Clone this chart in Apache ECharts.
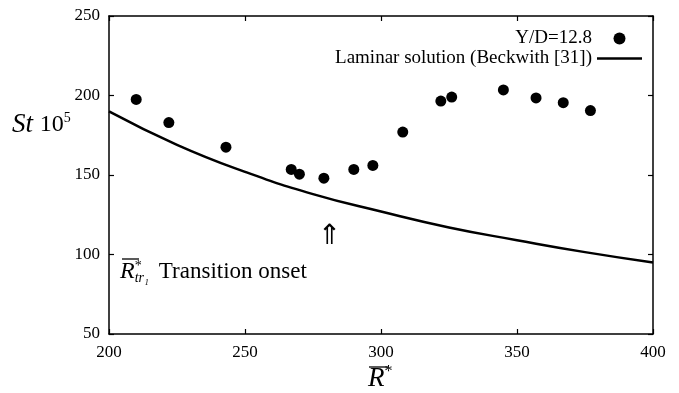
<!DOCTYPE html>
<html>
<head>
<meta charset="utf-8">
<script src="https://cdn.jsdelivr.net/npm/echarts@6/dist/echarts.min.js"></script>
<style>html,body{margin:0;padding:0;background:#fff}#c{width:679px;height:393px}</style>
</head>
<body>
<div id="c"></div>
<script>
// Experimental data Y/D=12.8
const expR = [210, 222, 243, 267, 270, 279, 290, 297, 308, 322, 326, 345, 357, 367, 377];
const expSt = [197.5, 183, 167.5, 153.5, 150.5, 148, 153.5, 156, 177, 196.5, 199, 203.5, 198.5, 195.5, 190.5];
// Laminar solution (Beckwith [31])
const lamR = [200, 225, 250, 275, 300, 325, 350, 375, 400];
const lamSt = [190, 169, 152, 138, 127, 117, 109, 101.5, 95];
const xTicks = [200, 250, 300, 350, 400];
const yTicks = [50, 100, 150, 200, 250];

const FONT = 'Liberation Serif';
const chart = echarts.init(document.getElementById('c'));
const axisCommon = {
  axisLine: {show: true, lineStyle: {color: '#000', width: 1.5}},
  axisTick: {show: true, inside: true, length: 5, lineStyle: {color: '#000', width: 1.2}},
  splitLine: {show: false}
};
chart.setOption({
  animation: false,
  backgroundColor: '#fff',
  grid: {left: 109, right: 26, top: 16, bottom: 59},
  xAxis: [
    Object.assign({type: 'value', min: xTicks[0], max: xTicks[xTicks.length-1], interval: 50, position: 'bottom',
      axisLabel: {color: '#000', fontFamily: FONT, fontSize: 17, margin: 10}}, axisCommon),
    Object.assign({type: 'value', min: xTicks[0], max: xTicks[xTicks.length-1], interval: 50, position: 'top',
      axisLabel: {show: false}}, axisCommon)
  ],
  yAxis: [
    Object.assign({type: 'value', min: yTicks[0], max: yTicks[yTicks.length-1], interval: 50, position: 'left',
      axisLabel: {color: '#000', fontFamily: FONT, fontSize: 17, margin: 9}}, axisCommon),
    Object.assign({type: 'value', min: yTicks[0], max: yTicks[yTicks.length-1], interval: 50, position: 'right',
      axisLabel: {show: false}}, axisCommon)
  ],
  legend: {
    orient: 'vertical', right: 32, top: 24, align: 'right', itemGap: 1,
    itemWidth: 45, itemHeight: 12,
    textStyle: {fontFamily: FONT, fontSize: 19, color: '#000'},
    data: [
      {name: 'Y/D=12.8', icon: 'circle'},
      {name: 'Laminar solution (Beckwith [31])', icon: 'path://M0,0 L45,0 L45,2.5 L0,2.5 Z'}
    ]
  },
  series: [
    {
      name: 'Y/D=12.8', type: 'scatter', symbol: 'circle', symbolSize: 11,
      itemStyle: {color: '#000', opacity: 1},
      data: expR.map((r, i) => [r, expSt[i]])
    },
    {
      name: 'Laminar solution (Beckwith [31])', type: 'line', smooth: true, symbol: 'none',
      lineStyle: {color: '#000', width: 2.5}, itemStyle: {color: '#000'},
      data: lamR.map((r, i) => [r, lamSt[i]])
    }
  ],
  graphic: [
    {type: 'text', left: 12, top: 111, style: {
      text: '{i|St}  {n|10}{s|5}', fill: '#000',
      rich: {
        i: {fontFamily: FONT, fontStyle: 'italic', fontSize: 27, fill: '#000'},
        n: {fontFamily: FONT, fontSize: 24, fill: '#000'},
        s: {fontFamily: FONT, fontSize: 14, fill: '#000', verticalAlign: 'top', padding: [0,0,10,0]}
      }}},
    {type: 'text', left: 318, top: 223, style: {text: '⇑', fontFamily: 'DejaVu Sans', fontSize: 28, fill: '#000'}},
    {type: 'text', left: 120, top: 259, style: {
      text: '{R|R}{st|*}{sub|tr₁}   {t|Transition onset}', fill: '#000',
      rich: {
        R: {fontFamily: FONT, fontStyle: 'italic', fontSize: 24, fill: '#000'},
        st: {fontFamily: FONT, fontSize: 14, fill: '#000', verticalAlign: 'top', padding: [0,0,12,0]},
        sub: {fontFamily: FONT, fontStyle: 'italic', fontSize: 14, fill: '#000', verticalAlign: 'bottom', padding: [12,0,0,-7]},
        t: {fontFamily: FONT, fontSize: 23, fill: '#000'}
      }}},
    {type: 'line', shape: {x1: 122, y1: 259, x2: 139, y2: 259}, style: {stroke: '#000', lineWidth: 1.3}},
    {type: 'text', left: 368, top: 364, style: {
      text: '{R|R}{st|*}', fill: '#000',
      rich: {
        R: {fontFamily: FONT, fontStyle: 'italic', fontSize: 27, fill: '#000'},
        st: {fontFamily: FONT, fontSize: 16, fill: '#000', verticalAlign: 'top', padding: [0,0,13,0]}
      }}},
    {type: 'line', shape: {x1: 369, y1: 367, x2: 389, y2: 367}, style: {stroke: '#000', lineWidth: 1.3}}
  ]
});
</script>
</body>
</html>
